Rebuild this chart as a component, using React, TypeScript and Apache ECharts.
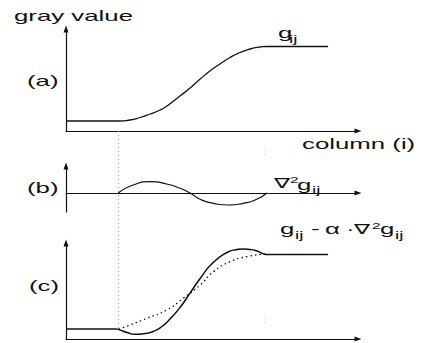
import React, { useEffect, useRef } from 'react';
import * as echarts from 'echarts';

// Shared column scale (0 .. ~98.6) for all three panels
const gColumns = [0, 18, 21.6, 25, 28.4, 31.8, 34.1, 38.5, 41.9, 45.3, 48.6, 52, 55.4, 58.8, 62.2, 65.5, 67.9, 88.5];
const gValues = [10, 10, 11, 13.5, 17, 21, 25, 35, 43, 52, 60, 67, 73.5, 78.5, 82, 84, 84.5, 84.5];

const laplaceColumns = [17.7, 22.7, 28.4, 34, 38.5, 41.9, 45.3, 49.8, 54.8, 59.9, 64.4, 67.8];
const laplaceValues = [0, 8, 11.3, 9, 4.7, 0, -6.3, -10.3, -12, -10.3, -6.3, 0];

const sharpColumns = [0, 16.9, 18.2, 20.6, 23.3, 26.7, 29.4, 32.4, 35.1, 38.5, 41.9, 45.3, 49.7, 54.4, 57.4, 59.8, 62.2, 64.5, 66.2, 67.9, 88.5];
const sharpValues = [10, 10, 9, 6.5, 4.7, 5.5, 7.5, 12.5, 20, 31.5, 46, 60.5, 76.5, 86.5, 89.3, 90, 89.5, 88, 85.8, 84.5, 84.5];

const gDottedColumns = [17.8, 21.6, 27.3, 34, 39.6, 45.3, 49.8, 55.4, 61, 66.6];
const gDottedValues = [10, 14, 20.7, 29, 40.7, 54, 67.3, 77.3, 82.3, 84.7];

// Vertical guides: column, start, end (measured downward from the top panel's axis)
const guideColumns = [17.8, 67.2, 67.2];
const guideStarts = [0, 19, 187];
const guideEnds = [198, 26, 194];

const FONT = '"Liberation Sans", Arial, "DejaVu Sans", sans-serif';
const STRETCH = 1.72;

// Text pieces: text, left x, baseline y, font size
const labels: [string, number, number, number][] = [
  ['gray value', 14, 20.7, 15],
  ['(a)', 27, 86, 15],
  ['column (i)', 302, 149, 15],
  ['(b)', 27, 193, 15],
  ['(c)', 29, 290.5, 15],
  ['g', 278, 37.5, 15],
  ['ij', 289, 42.5, 11],
  ['\u2207', 274, 188, 14],
  ['2', 290, 183, 9],
  ['g', 297, 189.5, 15],
  ['ij', 312, 194, 11],
  ['g', 280, 234, 15],
  ['ij', 295, 238.5, 11],
  ['-', 311, 234, 15],
  ['\u03b1', 325, 234, 15],
  ['\u00b7', 346, 234, 15],
  ['\u2207', 354, 233.5, 14],
  ['2', 372, 229, 9],
  ['g', 380, 234, 15],
  ['ij', 395, 238.5, 11],
];

const pairs = (xs: number[], ys: number[]) => xs.map((x, i) => [x, ys[i]]);

const axisLine = () => ({
  show: true,
  onZero: true,
  symbol: ['none', 'triangle'],
  symbolSize: [5, 7],
  lineStyle: { color: '#111', width: 1.2 },
});

const valueAxis = (gridIndex: number, min: number, max: number, show = true, inverse = false) => ({
  type: 'value' as const,
  gridIndex,
  min,
  max,
  show,
  inverse,
  axisLine: axisLine(),
  axisTick: { show: false },
  axisLabel: { show: false },
  splitLine: { show: false },
});

export default function App() {
  const ref = useRef<HTMLDivElement>(null);

  useEffect(() => {
    if (!ref.current) return;
    const chart = echarts.init(ref.current, undefined, { renderer: 'svg' });

    const xMax = 98.6;
    const curve = (xi: number, data: number[][], width: number, type: any = 'solid') => ({
      type: 'line' as const,
      xAxisIndex: xi,
      yAxisIndex: xi,
      data,
      smooth: 0.6,
      showSymbol: false,
      silent: true,
      lineStyle: { color: '#111', width, type },
      z: 3,
    });

    const guideSeries = guideColumns.map((c, i) => ({
      type: 'line' as const,
      xAxisIndex: 3,
      yAxisIndex: 3,
      data: [[c, guideStarts[i]], [c, guideEnds[i]]],
      showSymbol: false,
      silent: true,
      lineStyle: { color: i === 0 ? '#9a9a9a' : '#c4c4c4', width: 1, type: [1, 3] },
      z: 1,
    }));

    chart.setOption({
      animation: false,
      backgroundColor: '#ffffff',
      grid: [
        { left: 66, top: 29, width: 292, height: 102 },
        { left: 66, top: 166, width: 292, height: 46 },
        { left: 66, top: 243, width: 292, height: 96 },
        { left: 66, top: 131, width: 292, height: 198 },
      ],
      xAxis: [
        valueAxis(0, 0, xMax),
        valueAxis(1, 0, xMax),
        valueAxis(2, 0, xMax),
        valueAxis(3, 0, xMax, false),
      ],
      yAxis: [
        valueAxis(0, 0, 102),
        valueAxis(1, -19, 27),
        valueAxis(2, 0, 96),
        valueAxis(3, 0, 198, false, true),
      ],
      series: [
        ...guideSeries,
        curve(0, pairs(gColumns, gValues), 1.3),
        curve(1, pairs(laplaceColumns, laplaceValues), 1.2),
        curve(2, pairs(gDottedColumns, gDottedValues), 1.3, [1.5, 3]),
        curve(2, pairs(sharpColumns, sharpValues), 1.5),
      ],
      graphic: labels.map(([text, x, base, size]) => ({
        type: 'text',
        x,
        y: base - 0.3465 * size,
        scaleX: STRETCH,
        silent: true,
        style: {
          text,
          x: 0,
          y: 0,
          fill: '#111',
          font: `${size}px ${FONT}`,
          fontSize: size,
          fontFamily: FONT,
          align: 'left',
          verticalAlign: 'middle',
        },
      })),
    });

    return () => chart.dispose();
  }, []);

  return (
    <div
      ref={ref}
      style={{ position: 'absolute', left: 0, top: 0, width: 428, height: 343, background: '#fff' }}
    />
  );
}
